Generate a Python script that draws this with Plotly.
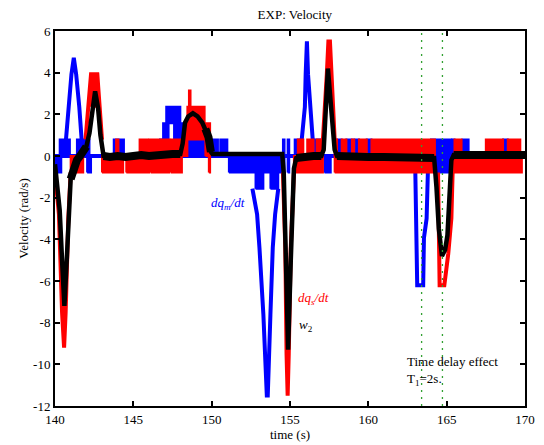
import plotly.graph_objects as go

# ---------------- data (rad/s vs s) ----------------
# dq_m/dt: intervals where the quantised signal toggles between two levels
dqm_band_t0 = [140.0, 140.3, 141.4, 142.05, 143.75, 146.7, 146.9, 147.6, 147.1, 148.4,
               150.0, 150.55, 151.1, 152.8, 153.75, 154.55, 154.85, 155.3, 156.6, 157.2,
               158.0, 158.6, 159.1, 159.9, 164.0, 164.2, 165.35, 166.0, 168.6]
dqm_band_t1 = [140.4, 140.95, 142.2, 142.3, 144.4, 147.0, 147.25, 148.25, 148.0, 149.9,
               150.4, 151.0, 154.45, 153.3, 154.25, 154.65, 154.95, 155.6, 157.1, 157.6,
               158.3, 158.95, 159.4, 160.2, 165.3, 165.3, 165.5, 166.4, 168.9]
dqm_band_lo = [-0.79, 0, 0, -0.79, 0, 0, 0.79, 0.79, 1.57, 0,
               0, 0, -0.79, -1.57, -1.57, -0.79, -0.79, 0, 0, -0.79,
               0, 0, 0, 0, 0, -0.79, 0, 0, 0]
dqm_band_hi = [0, 0.79, 0.79, 0, 0.79, 0.79, 1.57, 1.57, 2.36, 0.79,
               0.79, 0.79, 0, -0.79, -0.79, 0.79, 0.79, 0.79, 0.79, 0,
               0.79, 0.79, 0.79, 0.79, 0.79, 0, 0.79, 0.79, 0.79]
# dq_m/dt resting level and large excursions
dqm_path_t = [140.0, 170.0, None,
              140.7, 140.85, 141.05, 141.2, 141.35, 141.55, 141.7, None,
              152.6, 152.9, 153.05, 153.3, 153.52, 153.58, 153.75, 153.9, 154.05, 154.25, None,
              155.75, 155.95, 156.0, 156.08, 156.15, 156.3, 156.45, None,
              163.0, 163.08, 163.12, 163.5, 163.55, 163.72, 163.8]
dqm_path_v = [0, 0, None,
              0.79, 2.36, 3.93, 4.71, 3.93, 2.36, 0.79, None,
              -1.57, -2.8, -4.4, -7.6, -11.5, -11.5, -7.6, -4.4, -2.8, -1.57, None,
              0.79, 2.36, 3.93, 5.5, 3.93, 2.36, 0.79, None,
              -0.79, -3.9, -6.2, -6.2, -3.93, -3.0, -0.79]

# dq_s/dt: toggling intervals
dqs_band_t0 = [141.0, 142.3, 143.0, 144.55, 146.1, 147.4, 143.9, 145.4, 146.0, 147.4,
               148.25, 149.6, 148.3, 148.45, 148.55, 149.82, 155.25, 155.5, 156.1, 156.7,
               157.85, 157.85, 158.3, 158.95, 159.4, 160.2, 165.35, 165.5, 167.5, 168.9]
dqs_band_t1 = [141.8, 142.75, 144.35, 146.0, 147.3, 148.1, 144.05, 145.9, 147.3, 148.25,
               148.45, 149.9, 149.9, 149.55, 148.65, 149.9, 157.1, 155.85, 156.5, 157.1,
               164.25, 158.0, 158.6, 159.1, 159.9, 164.25, 169.8, 165.95, 168.6, 169.7]
dqs_band_lo = [-0.79, 2.36, -0.79, -0.79, -0.79, -0.79, 0, 0, 0, 0,
               0, 0, 0.79, 1.57, 2.36, -0.79, -0.79, 0, 0, 0,
               -0.79, 0, 0, 0, 0, 0, -0.79, 0, 0, 0]
dqs_band_hi = [0, 3.93, 0, 0, 0, 0, 0.79, 0.79, 0.79, 0.79,
               0.79, 0.79, 1.57, 2.36, 3.14, 0, 0, 0.79, 0.79, 0.79,
               0, 0.79, 0.79, 0.79, 0.79, 0.79, 0, 0.79, 0.79, 0.79]
# dq_s/dt large excursions
dqs_path_t = [140.0, 140.25, 140.45, 140.58, 140.68, 140.85, 141.0, None,
              141.95, 142.1, 142.3, 142.7, 142.85, 143.0, None,
              154.55, 154.7, 154.78, 154.85, 154.92, 155.05, 155.25, None,
              157.1, 157.25, 157.35, 157.45, 157.55, 157.65, 157.72, 157.85, None,
              164.45, 164.52, 164.55, 164.85, 165.1, 165.3, 165.38]
dqs_path_v = [-0.79, -2.8, -7.5, -9.2, -7.5, -3.0, -0.79, None,
              0.79, 2.36, 3.93, 3.93, 2.36, 0.79, None,
              -0.79, -4.4, -9.5, -11.5, -9.5, -4.4, -0.79, None,
              0.79, 2.36, 3.93, 5.5, 5.5, 3.93, 2.36, 0.79, None,
              -0.79, -3.9, -6.2, -6.2, -4.7, -3.0, -0.79]

# w2 (filtered velocity estimate)
w2_t = [140.0, 140.1, 140.2, 140.3, 140.45, 140.6, 140.75, 140.9, 141.0, 141.2,
        141.4, 141.6, 141.8, 142.0, 142.2, 142.4, 142.56, 142.75, 142.9, 143.1,
        143.5, 144.0, 144.5, 145.0, 145.5, 146.0, 146.5, 147.0, 147.5, 148.0,
        148.15, 148.3, 148.5, 148.8, 149.1, 149.4, 149.6, 149.8, 149.95, 150.05,
        152.0, 154.5, 154.6, 154.75, 154.88, 155.05, 155.25, 155.4, 156.0, 156.5,
        157.0, 157.15, 157.3, 157.42, 157.55, 157.7, 157.85, 158.0, 159.0, 160.0,
        161.0, 162.0, 163.0, 164.0, 164.2, 164.35, 164.5, 164.7, 164.9, 165.05,
        165.2, 165.3, 165.45, 166.0, 167.0, 168.0, 169.0, 170.0]
w2_v = [-0.4, -1.2, -1.9, -2.6, -5.0, -7.2, -5.0, -2.4, -1.1, -0.5,
        -0.2, 0.0, 0.2, 0.45, 1.1, 2.2, 3.1, 2.3, 1.0, 0.0,
        -0.05, 0.0, -0.05, 0.0, 0.05, 0.0, 0.05, 0.05, 0.1, 0.1,
        0.6, 1.6, 1.9, 2.05, 1.9, 1.6, 1.3, 0.9, 0.2, 0.1,
        0.1, 0.1, -0.8, -5.0, -9.3, -5.0, -0.6, -0.1, 0.0, 0.0,
        0.0, 0.3, 2.5, 4.2, 3.0, 1.3, 0.3, 0.0, -0.05, -0.05,
        -0.05, -0.05, -0.05, -0.05, -0.1, -1.5, -3.5, -4.8, -4.5, -3.8,
        -2.0, -0.2, 0.05, 0.05, 0.05, 0.05, 0.05, 0.05]

# delay markers
delay_t = [163.4, 164.73]

x_ticks = [140, 145, 150, 155, 160, 165, 170]
y_ticks = [-12, -10, -8, -6, -4, -2, 0, 2, 4, 6]
y_tick_text = ["-12", "-10", "-8", "-6", "-4", "-2", "0", "2", "4", "6"]

# ---------------- drawing ----------------
BLUE = "rgb(0,0,255)"
RED = "rgb(255,0,0)"
FONT = "Liberation Serif"
FS = 13
# time spans where w2 shows measurement noise (drawn as a wider trace)
NOISY_SPANS = [(140.95, 142.0), (143.05, 148.0), (149.6, 150.0), (155.3, 157.1),
               (157.9, 164.2), (165.35, 170.0)]


def band_polygons(t0, t1, lo, hi):
    xs, ys = [], []
    for a, b, l, h in zip(t0, t1, lo, hi):
        xs += [a, b, b, a, a, None]
        ys += [l, l, h, h, l, None]
    return xs, ys


fig = go.Figure()

bx, by = band_polygons(dqm_band_t0, dqm_band_t1, dqm_band_lo, dqm_band_hi)
fig.add_trace(go.Scatter(x=dqm_path_t, y=dqm_path_v, mode="lines",
                         line=dict(color=BLUE, width=4), hoverinfo="skip"))
fig.add_trace(go.Scatter(x=bx, y=by, mode="lines", fill="toself", fillcolor=BLUE,
                         line=dict(color=BLUE, width=2), hoverinfo="skip"))

rx, ry = band_polygons(dqs_band_t0, dqs_band_t1, dqs_band_lo, dqs_band_hi)
fig.add_trace(go.Scatter(x=dqs_path_t, y=dqs_path_v, mode="lines",
                         line=dict(color=RED, width=4), hoverinfo="skip"))
fig.add_trace(go.Scatter(x=rx, y=ry, mode="lines", fill="toself", fillcolor=RED,
                         line=dict(color=RED, width=2), hoverinfo="skip"))

# w2: core line everywhere, wider where noisy
fig.add_trace(go.Scatter(x=w2_t, y=w2_v, mode="lines",
                         line=dict(color="black", width=4.5), hoverinfo="skip"))
nx, ny = [], []
for a, b in NOISY_SPANS:
    for t, v in zip(w2_t, w2_v):
        if a <= t <= b:
            nx.append(t)
            ny.append(v)
    nx.append(None)
    ny.append(None)
fig.add_trace(go.Scatter(x=nx, y=ny, mode="lines",
                         line=dict(color="black", width=8), hoverinfo="skip"))

for t in delay_t:
    fig.add_trace(go.Scatter(x=[t, t], y=[-12, 6], mode="lines",
                             line=dict(color="rgb(50,160,50)", width=1.3, dash="2px,5px"),
                             hoverinfo="skip"))

ann_font = dict(family=FONT, size=FS)
fig.add_annotation(x=151.06, y=-2.3, text="<i>dq<sub>m</sub>/dt</i>", showarrow=False,
                   font=dict(ann_font, color=BLUE))
fig.add_annotation(x=156.5, y=-6.85, text="<i>dq<sub>s</sub>/dt</i>", showarrow=False,
                   font=dict(ann_font, color=RED))
fig.add_annotation(x=156.0, y=-8.15, text="<i>w</i><sub>2</sub>", showarrow=False,
                   font=dict(ann_font, color="black"))
fig.add_annotation(x=162.35, y=-10.3, text="Time delay effect<br>T<sub>1</sub>=2s.",
                   showarrow=False, xanchor="left", yanchor="middle", align="left",
                   font=dict(ann_font, color="black"))

axis_common = dict(showline=True, linecolor="black", linewidth=2, mirror="allticks",
                   ticks="inside", ticklen=5, tickwidth=1.5, tickcolor="black",
                   showgrid=False, zeroline=False,
                   tickfont=dict(family=FONT, size=FS, color="black"))

fig.update_layout(
    width=544, height=445,
    margin=dict(l=55, r=9, t=31, b=35),
    paper_bgcolor="white", plot_bgcolor="white",
    showlegend=False,
    title=dict(text="EXP: Velocity", x=0.542, xanchor="center", y=0.968, yanchor="middle",
               font=dict(family=FONT, size=FS, color="black")),
    xaxis=dict(axis_common, range=[140, 170], tickvals=x_ticks,
               title=dict(text="time (s)", standoff=0,
                          font=dict(family=FONT, size=FS, color="black"))),
    yaxis=dict(axis_common, range=[-12, 6], tickvals=y_ticks, ticktext=y_tick_text,
               title=dict(text="Velocity (rad/s)", standoff=2,
                          font=dict(family=FONT, size=FS, color="black"))),
)

fig.write_html("out.html")
